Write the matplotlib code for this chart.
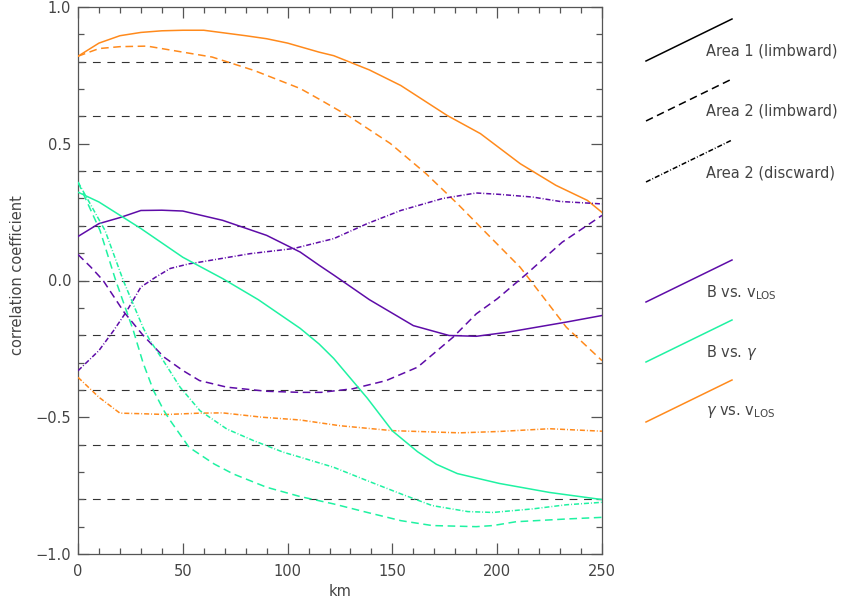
import matplotlib
matplotlib.use('Agg')
import matplotlib.pyplot as plt
from matplotlib.lines import Line2D
from matplotlib.ticker import MultipleLocator

# correlation coefficients vs. height (km), read per curve
# gamma vs. v_LOS
gv_a1_x = [0, 10, 20, 30, 40, 50, 60, 70, 80, 90, 100, 115, 122, 139, 154, 176, 192, 211, 228, 243, 250]
gv_a1_y = [0.82, 0.868, 0.895, 0.907, 0.913, 0.915, 0.915, 0.905, 0.895, 0.884, 0.868, 0.835, 0.822,
           0.77, 0.713, 0.604, 0.537, 0.427, 0.348, 0.293, 0.249]
gv_a2l_x = [0, 10, 20, 33, 50, 64, 84, 106, 116, 130, 149, 166, 181, 195, 211, 222, 233, 250]
gv_a2l_y = [0.82, 0.848, 0.855, 0.857, 0.835, 0.817, 0.768, 0.702, 0.659, 0.597, 0.501, 0.391,
            0.281, 0.172, 0.048, -0.061, -0.171, -0.293]
gv_a2d_x = [0, 10, 20, 30, 42, 58, 69, 88, 106, 125, 150, 182, 201, 225, 250]
gv_a2d_y = [-0.354, -0.427, -0.485, -0.487, -0.49, -0.485, -0.484, -0.5, -0.51, -0.531, -0.549,
            -0.557, -0.552, -0.542, -0.551]

# B vs. v_LOS
bv_a1_x = [0, 10, 20, 30, 40, 50, 69, 90, 106, 115, 122, 139, 160, 177, 190, 205, 233, 250]
bv_a1_y = [0.161, 0.208, 0.23, 0.256, 0.257, 0.254, 0.22, 0.165, 0.104, 0.056, 0.02, -0.07,
           -0.165, -0.201, -0.204, -0.189, -0.152, -0.128]
bv_a2l_x = [0, 6, 12, 22, 31, 41, 50, 58, 71, 90, 106, 116, 131, 147, 162, 179, 190, 200, 214, 231, 250]
bv_a2l_y = [0.095, 0.05, 0.0, -0.116, -0.2, -0.28, -0.329, -0.366, -0.39, -0.405, -0.409, -0.409,
            -0.396, -0.366, -0.317, -0.207, -0.122, -0.067, 0.024, 0.14, 0.238]
bv_a2d_x = [0, 10, 17, 23, 30, 37, 44, 53, 58, 82, 103, 115, 122, 138, 154, 174, 190, 201, 217, 230, 250]
bv_a2d_y = [-0.33, -0.256, -0.183, -0.115, -0.024, 0.012, 0.044, 0.061, 0.067, 0.098, 0.117, 0.14,
            0.153, 0.208, 0.256, 0.3, 0.32, 0.315, 0.305, 0.289, 0.28]

# B vs. gamma
bg_a1_x = [0, 10, 30, 50, 69, 86, 106, 115, 122, 138, 150, 162, 171, 181, 201, 225, 250]
bg_a1_y = [0.323, 0.287, 0.19, 0.085, 0.007, -0.07, -0.175, -0.232, -0.285, -0.43, -0.55, -0.626,
           -0.672, -0.706, -0.742, -0.775, -0.801]
bg_a2l_x = [0, 10.5, 18, 26.4, 31, 36, 41, 44, 53, 65, 74, 90, 106, 122, 138, 154, 169, 190, 198,
            209, 233, 250]
bg_a2l_y = [0.36, 0.183, 0.0, -0.183, -0.3, -0.402, -0.476, -0.512, -0.61, -0.671, -0.707, -0.756,
            -0.79, -0.817, -0.848, -0.878, -0.896, -0.9, -0.896, -0.882, -0.872, -0.866]
bg_a2d_x = [0, 12.9, 21.6, 31.2, 34.4, 40.7, 48.7, 58.2, 71, 83.6, 98, 106, 122, 138, 154, 169, 186,
            198, 217, 233, 250]
bg_a2d_y = [0.36, 0.183, 0.0, -0.175, -0.22, -0.293, -0.39, -0.476, -0.543, -0.585, -0.628, -0.646,
            -0.683, -0.732, -0.78, -0.823, -0.845, -0.848, -0.835, -0.82, -0.811]

grid_levels = [0.8, 0.6, 0.4, 0.2, 0.0, -0.2, -0.4, -0.6, -0.8]

area_labels = ['Area 1 (limbward)', 'Area 2 (limbward)', 'Area 2 (discward)']
pair_labels = [r'B vs. v$_{\rm LOS}$', r'B vs. $\gamma$', r'$\gamma$ vs. v$_{\rm LOS}$']

PURPLE = '#5e0ca8'
CYAN = '#1ff2a2'
ORANGE = '#ff8a1c'
TXT = '#444444'

SOLID = '-'
DASH = (0, (5, 3))
DASHDOT = (0, (3.3, 1.3, 0.6, 1.3))
LW = 1.1

W, H = 848, 603
fig = plt.figure(figsize=(W / 100, H / 100), dpi=100)
ax = fig.add_axes([78 / W, 1 - 554 / H, 524 / W, 547 / H])

for lev in grid_levels:
    ax.axhline(lev, color='#333333', lw=0.8, linestyle=(0, (7, 6)), zorder=1)

curves = [
    (gv_a1_x, gv_a1_y, ORANGE, SOLID), (gv_a2l_x, gv_a2l_y, ORANGE, DASH), (gv_a2d_x, gv_a2d_y, ORANGE, DASHDOT),
    (bv_a1_x, bv_a1_y, PURPLE, SOLID), (bv_a2l_x, bv_a2l_y, PURPLE, DASH), (bv_a2d_x, bv_a2d_y, PURPLE, DASHDOT),
    (bg_a1_x, bg_a1_y, CYAN, SOLID), (bg_a2l_x, bg_a2l_y, CYAN, DASH), (bg_a2d_x, bg_a2d_y, CYAN, DASHDOT),
]
for xs, ys, c, ls in curves:
    ax.plot(xs, ys, color=c, linestyle=ls, lw=LW, zorder=3)

ax.set_xlim(0, 250)
ax.set_ylim(-1, 1)
ax.xaxis.set_major_locator(MultipleLocator(50))
ax.xaxis.set_minor_locator(MultipleLocator(10))
ax.yaxis.set_major_locator(MultipleLocator(0.5))
ax.yaxis.set_minor_locator(MultipleLocator(0.1))
ax.yaxis.set_major_formatter(plt.FuncFormatter(lambda v, p: ('%.1f' % v).replace('-', '\u2212')))
ax.tick_params(which='both', direction='in', top=True, right=True, colors='#555555',
               labelcolor=TXT, labelsize=10.5, width=0.9)
ax.tick_params(which='major', length=8)
ax.tick_params(which='minor', length=4)
ax.tick_params(axis='x', pad=7)
ax.tick_params(axis='y', pad=5)
for sp in ax.spines.values():
    sp.set_color('#555555')
    sp.set_linewidth(0.9)

ax.set_xlabel('km', color=TXT, fontsize=10.5, va='center')
ax.xaxis.set_label_coords(0.5, -0.068)
ax.set_ylabel('correlation coefficient', color=TXT, fontsize=10.5, va='center')
ax.yaxis.set_label_coords(-0.115, 0.51)

# key drawn outside the axes, in pixel coordinates of the figure
def key_line(py, color, ls, label):
    x0, x1 = 646, 732
    fig.add_artist(Line2D([x0 / W, x1 / W], [1 - py / H, 1 - (py - 42) / H],
                          transform=fig.transFigure, color=color, linestyle=ls, lw=LW))
    fig.text(706 / W, 1 - (py - 9.5) / H, label, color=TXT, fontsize=10.5, va='center', ha='left')

for py, ls, lab in zip([61, 121, 182], [SOLID, DASH, DASHDOT], area_labels):
    key_line(py, 'black', ls, lab)
for py, c, lab in zip([302, 362, 422], [PURPLE, CYAN, ORANGE], pair_labels):
    key_line(py, c, SOLID, lab)

fig.savefig('out.png', dpi=100)
